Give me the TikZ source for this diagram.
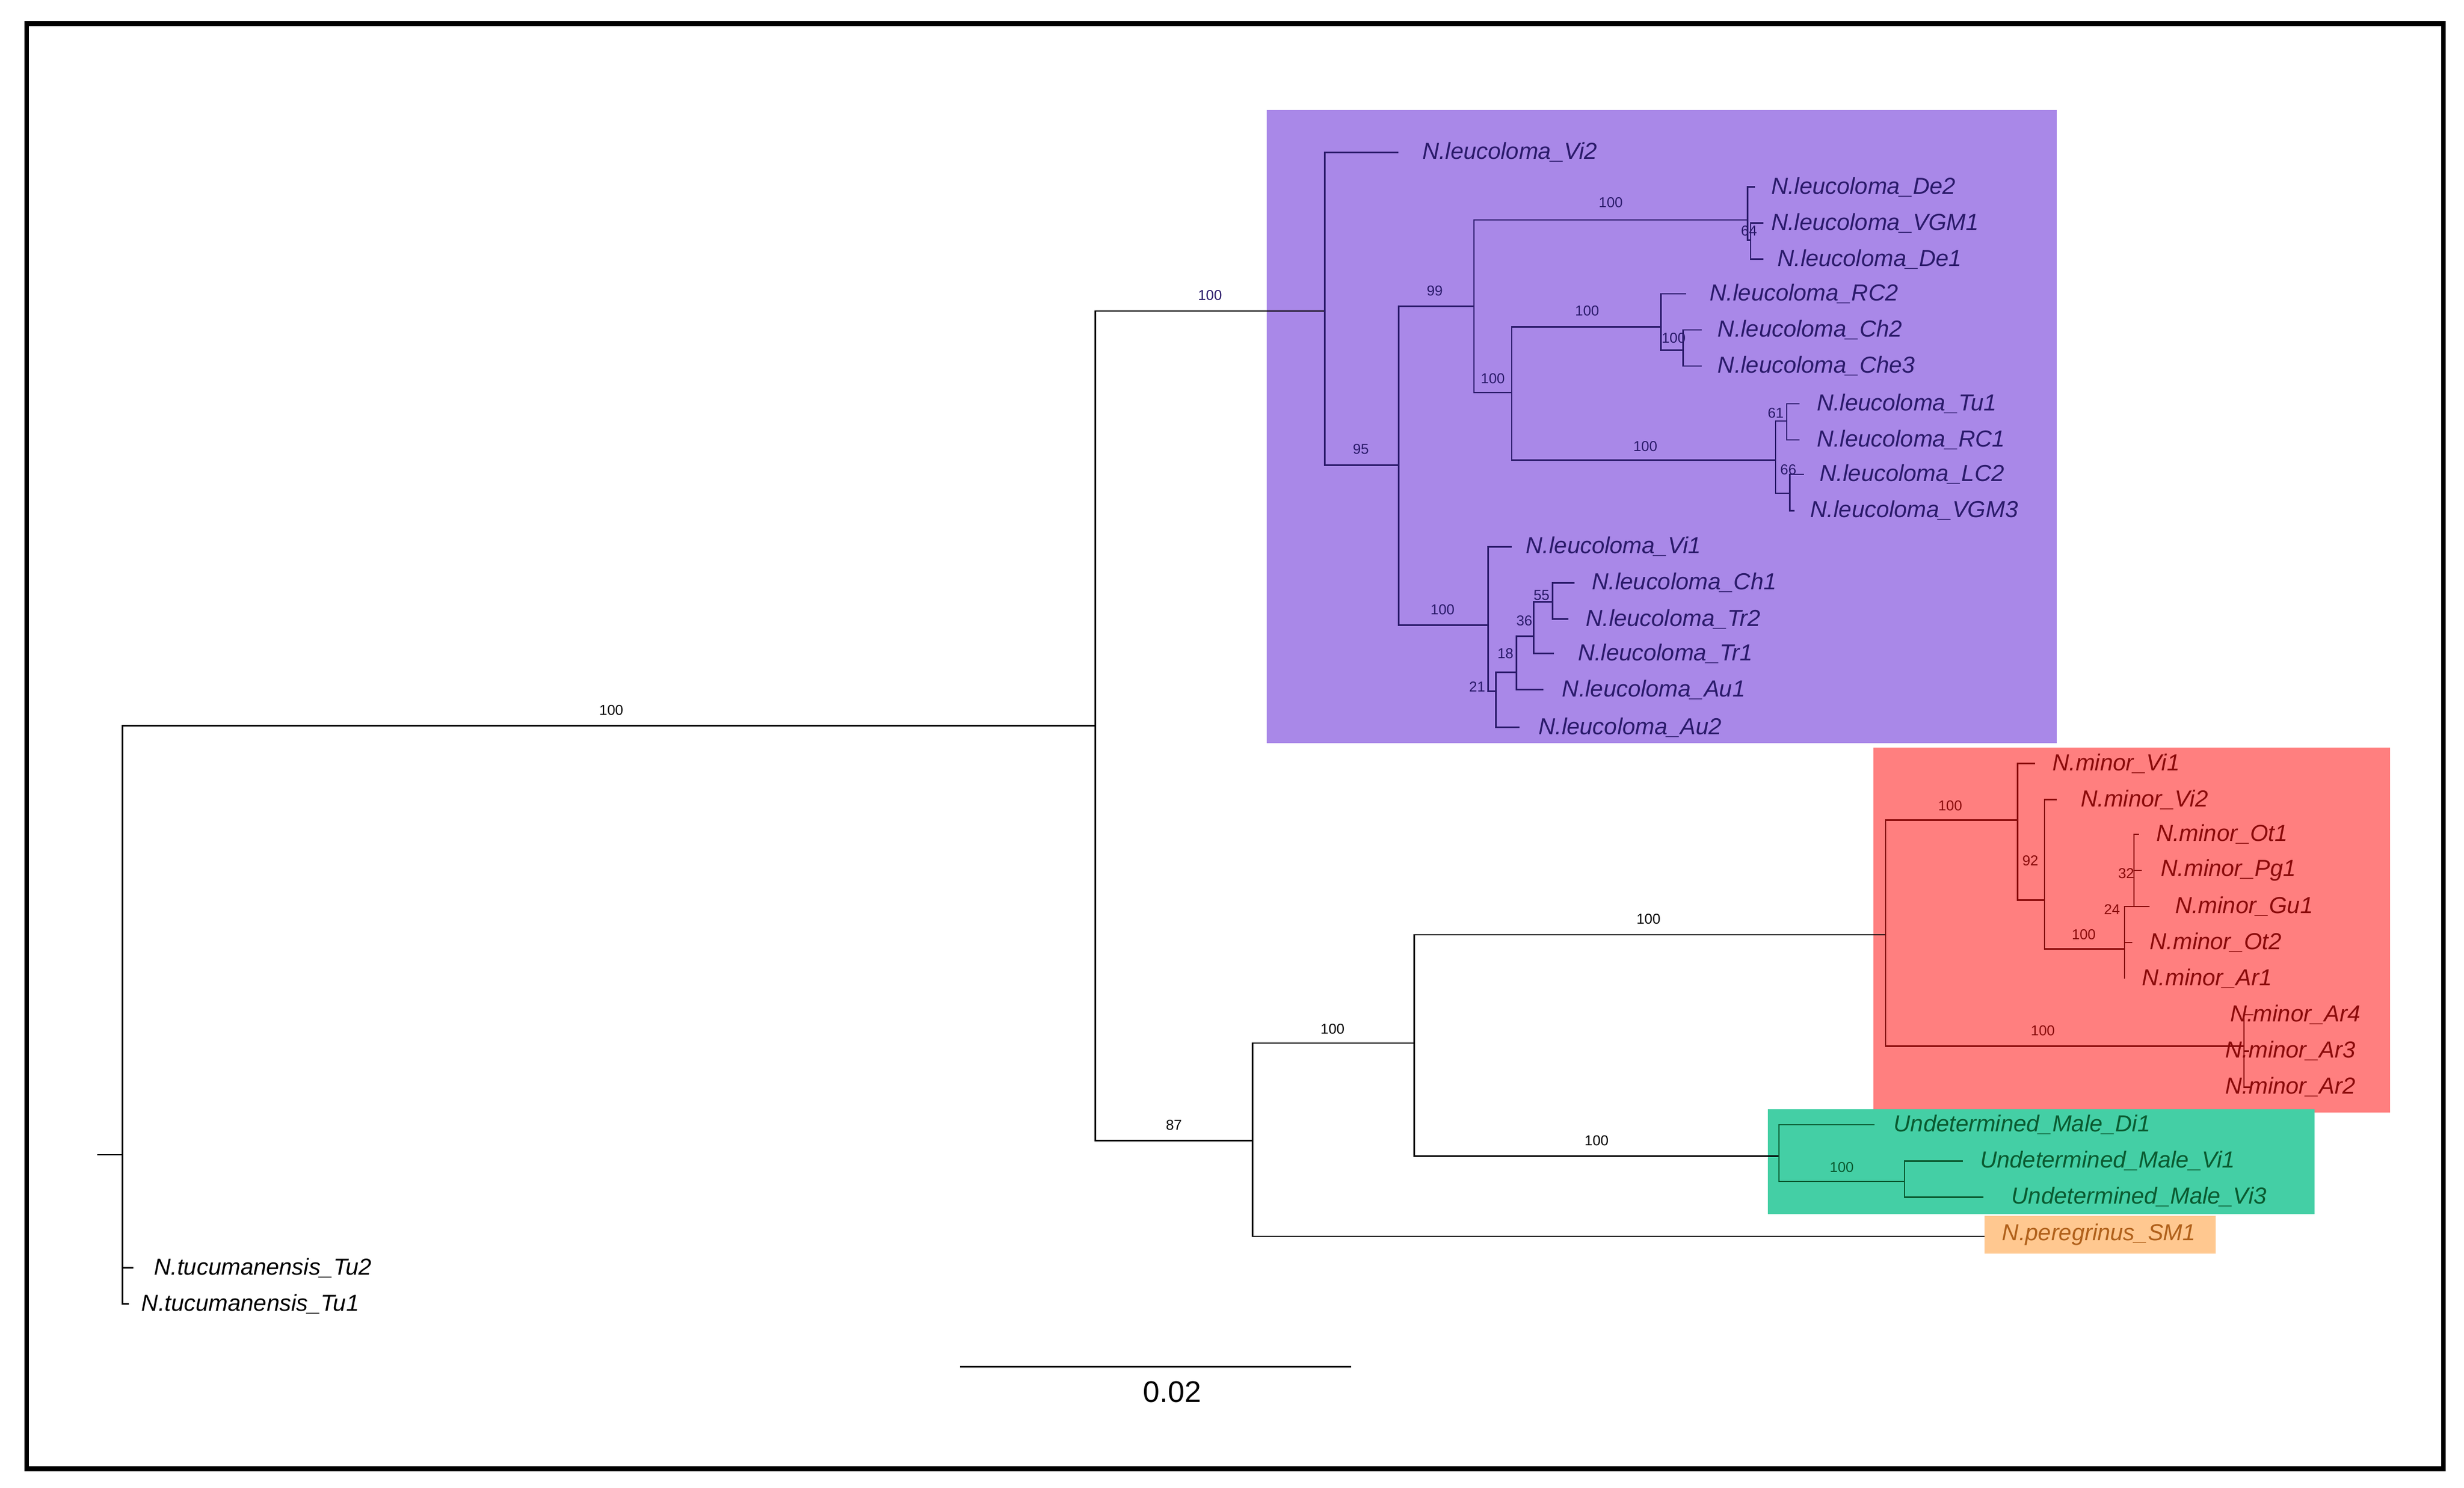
\documentclass[tikz,border=0pt]{standalone}
\usepackage{fontspec}
\setmainfont{Liberation Sans}
\begin{document}
\begin{tikzpicture}[x=0.05cm,y=-0.05cm,
 br/.style={line width=1.3pt},
 lab/.style={anchor=west,inner sep=0pt,font=\fontsize{21}{24}\selectfont\itshape},
 bs/.style={inner sep=0pt,font=\fontsize{13}{15}\selectfont}]
\definecolor{purp}{HTML}{A988E8}\definecolor{purt}{HTML}{2A1A6A}
\definecolor{redb}{HTML}{FF7F7F}\definecolor{redt}{HTML}{8A0A0A}
\definecolor{grnb}{HTML}{44CFA5}\definecolor{grnt}{HTML}{0A5A30}
\definecolor{orb}{HTML}{FFC890}\definecolor{ort}{HTML}{B0601A}
\useasboundingbox (0,0) rectangle (1568,947);
\fill[white] (0,0) rectangle (1568,947);
\draw[line width=4.2pt] (17,15) rectangle (1555,935);
\fill[purp] (806,70) rectangle (1309,473);
\fill[redb] (1192,476) rectangle (1521,708);
\fill[grnb] (1125,706) rectangle (1473,773);
\fill[orb] (1263,774) rectangle (1410,798);
% coordinates
\coordinate (r) at (78,735); \coordinate (stub) at (62,735);
\coordinate (tTu2) at (85,807); \coordinate (tTu1) at (82,830);
\coordinate (A) at (697,462); \coordinate (L) at (843,198); \coordinate (B) at (797,726);
\coordinate (tVi2) at (890,97); \coordinate (n95) at (890,296);
\coordinate (n99) at (938,195); \coordinate (nc) at (947,398);
\coordinate (nDe) at (1112,140); \coordinate (n250) at (962,250);
\coordinate (tDe2) at (1117,119); \coordinate (n64) at (1114,153);
\coordinate (tVGM1) at (1122,142); \coordinate (tDe1) at (1122,165);
\coordinate (nRC) at (1057,208); \coordinate (nTu) at (1130,293);
\coordinate (tRC2) at (1073,187); \coordinate (nCh) at (1071,223);
\coordinate (tCh2) at (1083,210); \coordinate (tChe3) at (1083,233);
\coordinate (n61) at (1137,268); \coordinate (tTu1L) at (1145,257); \coordinate (tRC1) at (1145,280);
\coordinate (n66) at (1139,314); \coordinate (tLC2) at (1148,302); \coordinate (tVGM3) at (1142,325);
\coordinate (tVi1) at (962,348); \coordinate (n21) at (952,440);
\coordinate (tAu2) at (967,463); \coordinate (n18) at (965,428);
\coordinate (tAu1) at (982,439); \coordinate (n36) at (976,405);
\coordinate (tTr1) at (989,416); \coordinate (n55) at (988,383);
\coordinate (tCh1) at (1002,371); \coordinate (tTr2) at (998,394);
\coordinate (C) at (900,664); \coordinate (tPer) at (1263,787);
\coordinate (M) at (1200,595); \coordinate (U) at (1132,736);
\coordinate (m1) at (1284,522); \coordinate (Ar) at (1428,666);
\coordinate (tmVi1) at (1295,486); \coordinate (n92) at (1301,573);
\coordinate (tmVi2) at (1309,509); \coordinate (nm) at (1352,604);
\coordinate (n32) at (1358,577); \coordinate (tOt2) at (1357,600); \coordinate (tAr1) at (1352,623);
\coordinate (tOt1) at (1361,531); \coordinate (tPg1) at (1363,554); \coordinate (tGu1) at (1368,577);
\coordinate (tAr4) at (1434,646); \coordinate (tAr3) at (1431,669); \coordinate (tAr2) at (1432,692);
\coordinate (tDi1) at (1193,716); \coordinate (nU) at (1212,752);
\coordinate (tUVi1) at (1249,739); \coordinate (tUVi3) at (1262,762);
% black branches
\draw[br] (stub) -- (r) (r) |- (A) (r) |- (tTu2) (r) |- (tTu1) (A) |- (L) (A) |- (B)
 (B) |- (C) (B) |- (tPer) (C) |- (M) (C) |- (U);
% purple clade
\begin{scope}[purt,br]
\draw (L) |- (tVi2) (L) |- (n95) (n95) |- (n99) (n95) |- (nc) (n99) |- (nDe) (n99) |- (n250)
 (nDe) |- (tDe2) (nDe) |- (n64) (n64) |- (tVGM1) (n64) |- (tDe1)
 (n250) |- (nRC) (n250) |- (nTu) (nRC) |- (tRC2) (nRC) |- (nCh) (nCh) |- (tCh2) (nCh) |- (tChe3)
 (nTu) |- (n61) (nTu) |- (n66) (n61) |- (tTu1L) (n61) |- (tRC1) (n66) |- (tLC2) (n66) |- (tVGM3)
 (nc) |- (tVi1) (nc) |- (n21) (n21) |- (tAu2) (n21) |- (n18) (n18) |- (tAu1) (n18) |- (n36)
 (n36) |- (tTr1) (n36) |- (n55) (n55) |- (tCh1) (n55) |- (tTr2);
\end{scope}
\begin{scope}[redt,br]
\draw (M) |- (m1) (M) |- (Ar) (m1) |- (tmVi1) (m1) |- (n92) (n92) |- (tmVi2) (n92) |- (nm)
 (nm) |- (n32) (nm) |- (tOt2) (nm) |- (tAr1) (n32) |- (tOt1) (n32) |- (tPg1) (n32) |- (tGu1)
 (Ar) |- (tAr4) (Ar) |- (tAr3) (Ar) |- (tAr2);
\end{scope}
\begin{scope}[grnt,br]
\draw (U) |- (tDi1) (U) |- (nU) (nU) |- (tUVi1) (nU) |- (tUVi3);
\end{scope}
% leaf labels
\node[lab] (lTu2) at (98,807) {N.tucumanensis\_Tu2};
\node[lab] (lTu1) at (90,830) {N.tucumanensis\_Tu1};
\begin{scope}[purt]
\node[lab,purt] at (905,97) {N.leucoloma\_Vi2};
\node[lab,purt] at (1127,119) {N.leucoloma\_De2};
\node[lab,purt] at (1127,142) {N.leucoloma\_VGM1};
\node[lab,purt] at (1131,165) {N.leucoloma\_De1};
\node[lab,purt] at (1088,187) {N.leucoloma\_RC2};
\node[lab,purt] at (1093,210) {N.leucoloma\_Ch2};
\node[lab,purt] at (1093,233) {N.leucoloma\_Che3};
\node[lab,purt] at (1156,257) {N.leucoloma\_Tu1};
\node[lab,purt] at (1156,280) {N.leucoloma\_RC1};
\node[lab,purt] at (1158,302) {N.leucoloma\_LC2};
\node[lab,purt] at (1152,325) {N.leucoloma\_VGM3};
\node[lab,purt] at (971,348) {N.leucoloma\_Vi1};
\node[lab,purt] at (1013,371) {N.leucoloma\_Ch1};
\node[lab,purt] at (1009,394) {N.leucoloma\_Tr2};
\node[lab,purt] at (1004,416) {N.leucoloma\_Tr1};
\node[lab,purt] at (994,439) {N.leucoloma\_Au1};
\node[lab,purt] at (979,463) {N.leucoloma\_Au2};
\end{scope}
\node[lab,redt] at (1306,486) {N.minor\_Vi1};
\node[lab,redt] at (1324,509) {N.minor\_Vi2};
\node[lab,redt] at (1372,531) {N.minor\_Ot1};
\node[lab,redt] at (1375,554) {N.minor\_Pg1};
\node[lab,redt] at (1384,577) {N.minor\_Gu1};
\node[lab,redt] at (1368,600) {N.minor\_Ot2};
\node[lab,redt] at (1363,623) {N.minor\_Ar1};
\node[lab,redt] at (1419,646) {N.minor\_Ar4};
\node[lab,redt] at (1416,669) {N.minor\_Ar3};
\node[lab,redt] at (1416,692) {N.minor\_Ar2};
\node[lab,grnt] at (1205,716) {Undetermined\_Male\_Di1};
\node[lab,grnt] at (1260,739) {Undetermined\_Male\_Vi1};
\node[lab,grnt] at (1280,762) {Undetermined\_Male\_Vi3};
\node[lab,ort] at (1274,786) {N.peregrinus\_SM1};
% bootstrap
\node[bs] at (389,452) {100}; \node[bs] at (747,716) {87}; \node[bs] at (848,655) {100};
\node[bs] at (1049,585) {100}; \node[bs] at (1016,726) {100};
\begin{scope}[purt]
\node[bs] at (770,188) {100}; \node[bs] at (866,286) {95}; \node[bs] at (913,185) {99};
\node[bs] at (1025,129) {100}; \node[bs] at (1113,147) {64}; \node[bs] at (950,241) {100};
\node[bs] at (1010,198) {100}; \node[bs] at (1065,215) {100}; \node[bs] at (1047,284) {100};
\node[bs] at (1130,263) {61}; \node[bs] at (1138,299) {66}; \node[bs] at (918,388) {100};
\node[bs] at (940,437) {21}; \node[bs] at (958,416) {18}; \node[bs] at (970,395) {36};
\node[bs] at (981,379) {55};
\end{scope}
\begin{scope}[redt]
\node[bs] at (1241,513) {100}; \node[bs] at (1292,548) {92}; \node[bs] at (1326,595) {100};
\node[bs] at (1344,579) {24}; \node[bs] at (1353,556) {32}; \node[bs] at (1300,656) {100};
\end{scope}
\node[bs,grnt] at (1172,743) {100};
% scale bar
\coordinate (s1) at (611,870); \coordinate (s2) at (860,870);
\draw[line width=1.3pt] (s1) -- (s2);
\node[inner sep=0pt,font=\fontsize{27}{30}\selectfont] (sl) at (746,886) {0.02};
\end{tikzpicture}
\end{document}
